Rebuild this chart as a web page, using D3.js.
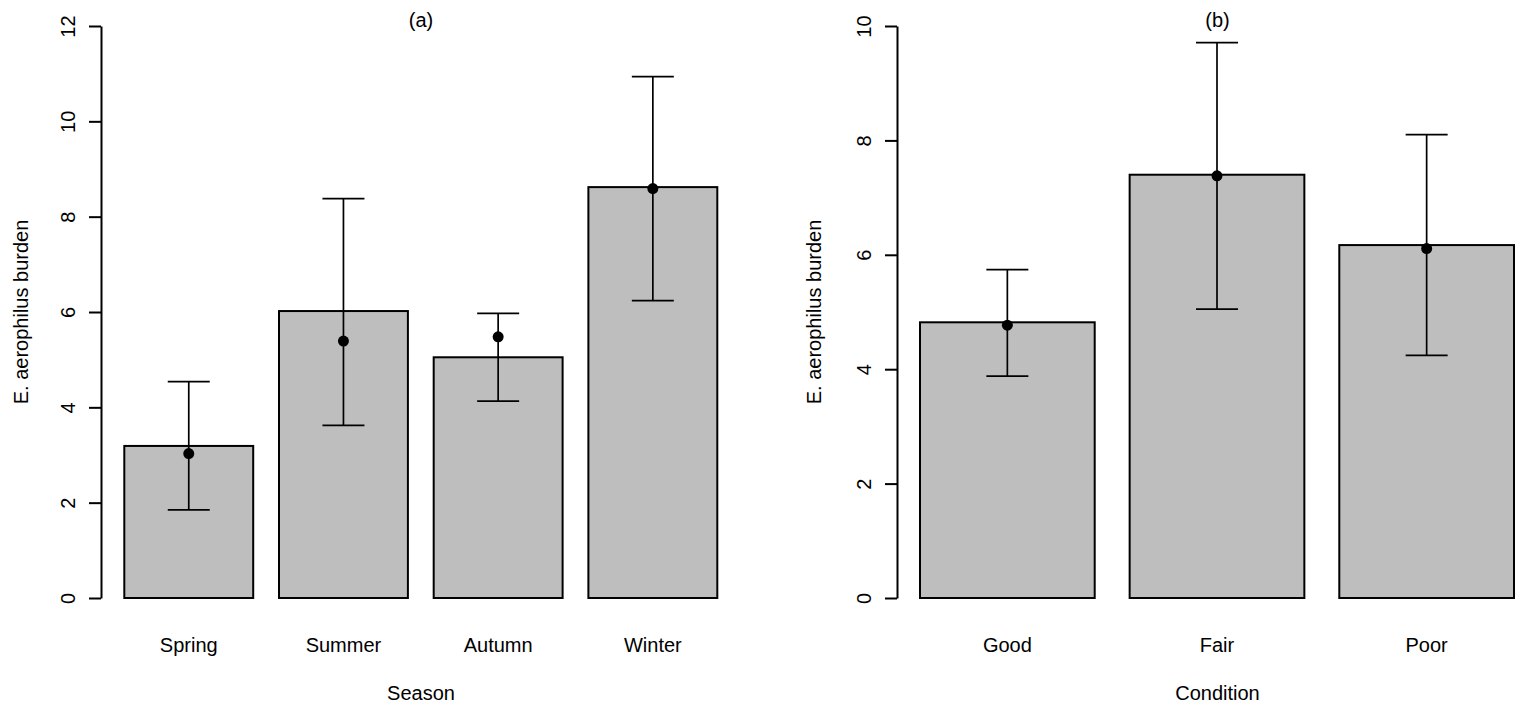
<!DOCTYPE html>
<html>
  <head>
    <meta charset="utf-8">
    <title>E. aerophilus burden</title>
    <script src="https://cdnjs.cloudflare.com/ajax/libs/d3/7.8.5/d3.min.js"></script>
    <style>
      body { margin: 0; background: #fff; }
      text { font-family: "Liberation Sans", Arial, sans-serif; font-size: 20px; fill: #000; }
    </style>
  </head>
  <body>

    <script>
      // panel (a): season
      var seasons    = ["Spring", "Summer", "Autumn", "Winter"];
      var seasonBar  = [3.19, 6.02, 5.05, 8.62];
      var seasonMean = [3.03, 5.39, 5.48, 8.59];
      var seasonLow  = [1.85, 3.62, 4.13, 6.24];
      var seasonHigh = [4.54, 8.38, 5.97, 10.94];
      var seasonTicks = [0, 2, 4, 6, 8, 10, 12];

      // panel (b): condition
      var conditions = ["Good", "Fair", "Poor"];
      var condBar    = [4.82, 7.40, 6.17];
      var condMean   = [4.77, 7.38, 6.11];
      var condLow    = [3.88, 5.05, 4.24];
      var condHigh   = [5.74, 9.71, 8.10];
      var condTicks  = [0, 2, 4, 6, 8, 10];

      var yLabel = "E. aerophilus burden";

      var svg = d3.select("body").append("svg")
        .attr("width", 1522)
        .attr("height", 709);

      function panel(p){
        var g = svg.append("g");

        var x = d3.scaleBand()
          .domain(p.cats)
          .range(p.barRange)
          .paddingInner(1/6)
          .paddingOuter(0);

        var y = d3.scaleLinear()
          .domain([0, d3.max(p.ticks)])
          .range([598, 26]);

        var data = p.cats.map(function (c, i){
          return {cat: c, bar: p.bar[i], mean: p.mean[i], low: p.low[i], high: p.high[i]};
        });

        // bars
        g.selectAll("rect.bar").data(data).enter().append("rect")
          .attr("class", "bar")
          .attr("x", function (d){ return x(d.cat); })
          .attr("y", function (d){ return y(d.bar); })
          .attr("width", x.bandwidth())
          .attr("height", function (d){ return y(0) - y(d.bar); })
          .attr("fill", "#bebebe")
          .attr("stroke", "#000")
          .attr("stroke-width", 2);

        // error bars
        var cx = function (d){ return x(d.cat) + x.bandwidth() / 2; };
        var err = g.selectAll("g.err").data(data).enter().append("g")
          .attr("class", "err")
          .attr("stroke", "#000")
          .attr("stroke-width", 1.7);

        err.append("line")
          .attr("x1", cx).attr("x2", cx)
          .attr("y1", function (d){ return y(d.low); })
          .attr("y2", function (d){ return y(d.high); });
        err.append("line")
          .attr("x1", function (d){ return cx(d) - 21; })
          .attr("x2", function (d){ return cx(d) + 21; })
          .attr("y1", function (d){ return y(d.high); })
          .attr("y2", function (d){ return y(d.high); });
        err.append("line")
          .attr("x1", function (d){ return cx(d) - 21; })
          .attr("x2", function (d){ return cx(d) + 21; })
          .attr("y1", function (d){ return y(d.low); })
          .attr("y2", function (d){ return y(d.low); });

        g.selectAll("circle").data(data).enter().append("circle")
          .attr("cx", cx)
          .attr("cy", function (d){ return y(d.mean); })
          .attr("r", 5.5)
          .attr("fill", "#000");

        // y axis, labels turned like R's las=0
        var ax = g.append("g")
          .attr("transform", "translate(" + p.axisX + ",0)")
          .call(d3.axisLeft(y).tickValues(p.ticks).tickSize(12).tickSizeOuter(0));
        ax.select(".domain").attr("stroke-width", 2);
        ax.selectAll(".tick line").attr("stroke-width", 2);
        ax.selectAll(".tick text")
          .attr("transform", "rotate(-90)")
          .attr("x", 0)
          .attr("y", -26)
          .attr("dy", 0)
          .attr("text-anchor", "middle")
          .style("font-size", "20px")
          .style("font-family", "'Liberation Sans', Arial, sans-serif");

        // category names
        g.selectAll("text.cat").data(data).enter().append("text")
          .attr("class", "cat")
          .attr("x", cx)
          .attr("y", 651.5)
          .attr("text-anchor", "middle")
          .text(function (d){ return d.cat; });

        var mid = (p.axisX + p.plotRight) / 2;

        g.append("text")
          .attr("x", mid).attr("y", 699.5)
          .attr("text-anchor", "middle")
          .text(p.xlab);

        g.append("text")
          .attr("x", mid).attr("y", 27)
          .attr("text-anchor", "middle")
          .text(p.title);

        g.append("text")
          .attr("transform", "translate(" + p.ylabX + "," + y(d3.max(p.ticks) / 2) + ") rotate(-90)")
          .attr("text-anchor", "middle")
          .text(yLabel);
      }

      panel({
        cats: seasons, bar: seasonBar, mean: seasonMean, low: seasonLow, high: seasonHigh,
        ticks: seasonTicks, barRange: [124.3, 717.3], axisX: 101, plotRight: 741, ylabX: 28,
        title: "(a)", xlab: "Season"
      });

      panel({
        cats: conditions, bar: condBar, mean: condMean, low: condLow, high: condHigh,
        ticks: condTicks, barRange: [920, 1514], axisX: 897, plotRight: 1538, ylabX: 821,
        title: "(b)", xlab: "Condition"
      });
    </script>

  </body>
</html>
